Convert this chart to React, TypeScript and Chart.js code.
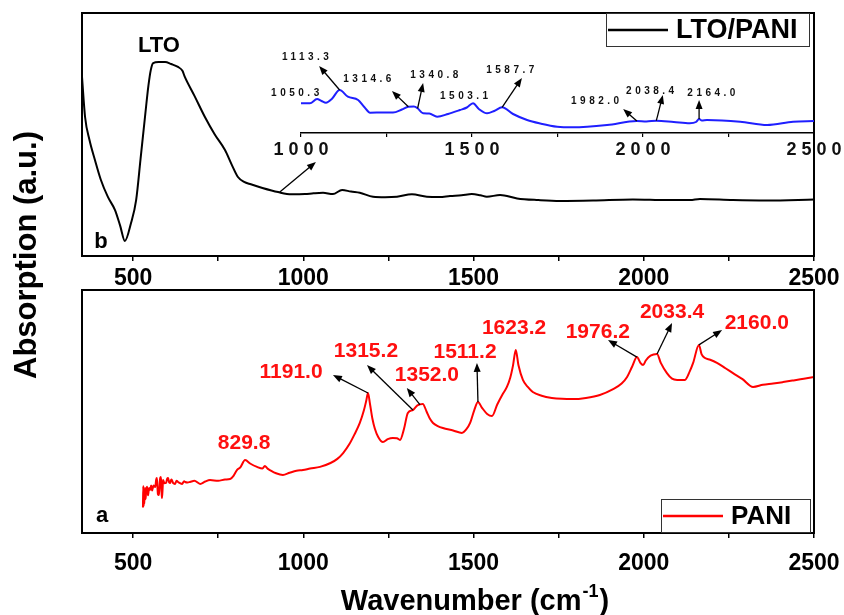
import React, { useEffect, useRef } from 'react';
import { Chart, registerables } from 'chart.js';
Chart.register(...registerables);

const FONT = '"Liberation Sans", Arial, Helvetica, sans-serif';
const W = 844;
const H = 615;

// ---- axes ----
const xMin = 350;
const xMax = 2500;
const xStep = 250;
const xTickLabels = [500, 1000, 1500, 2000, 2500];
const insetMin = 1000;
const insetMax = 2500;
const insetTickLabels = [1000, 1500, 2000, 2500];

// ---- (b) LTO/PANI spectrum ----
const ltoPaniX = [350, 359, 372, 388, 405, 426, 447, 462, 476, 494, 509, 522, 535, 545, 552, 559, 575, 594, 612, 632, 645, 652, 680, 711, 740, 770, 790, 808, 826, 846, 880, 926, 965, 1005, 1030, 1058, 1087, 1114, 1140, 1166, 1205, 1240, 1275, 1319, 1363, 1400, 1431, 1465, 1495, 1520, 1539, 1578, 1628, 1690, 1754, 1851, 1968, 2068, 2136, 2165, 2262, 2362, 2500];
const ltoPaniY = [73.7, 57.2, 47.7, 39.5, 31.5, 24.3, 18.9, 12.5, 6.2, 13.6, 23.0, 40.0, 57.2, 70.0, 76.5, 79.4, 79.8, 79.8, 79.0, 77.8, 76.2, 73.7, 66.0, 57.2, 50.0, 43.6, 37.5, 32.5, 30.5, 29.5, 28.0, 26.3, 25.4, 25.5, 25.8, 26.0, 25.5, 27.2, 26.5, 26.0, 24.4, 24.2, 24.4, 25.4, 24.4, 24.3, 24.7, 25.0, 25.5, 25.0, 24.4, 25.1, 23.7, 23.0, 22.6, 22.8, 23.3, 23.0, 23.0, 23.5, 23.0, 22.8, 23.3];

// ---- inset (enlarged LTO/PANI) ----
const insetX = [1000, 1026, 1047, 1060, 1073, 1090, 1113, 1137, 1167, 1185, 1202, 1240, 1269, 1295, 1314, 1330, 1341, 1357, 1375, 1398, 1430, 1465, 1485, 1503, 1520, 1544, 1565, 1588, 1620, 1661, 1700, 1749, 1795, 1895, 1982, 2010, 2039, 2090, 2137, 2155, 2164, 2172, 2187, 2284, 2363, 2439, 2500];
const insetY = [29.7, 29.7, 34.0, 32.0, 30.3, 34.0, 43.0, 36.3, 33.0, 26.0, 20.3, 20.5, 20.5, 23.5, 26.3, 26.5, 24.7, 19.7, 19.5, 16.3, 19.0, 23.0, 25.5, 29.7, 24.0, 19.7, 22.0, 25.7, 19.0, 13.0, 9.5, 6.3, 5.7, 8.0, 12.0, 11.5, 12.3, 11.0, 9.7, 11.0, 14.0, 12.5, 13.0, 11.3, 8.0, 11.3, 12.0];

// ---- (a) PANI spectrum ----
const paniX = [529, 530, 531, 532, 533, 535, 537, 538, 541, 544, 547, 550, 553, 556, 560, 565, 568, 570, 573, 576, 579, 582, 584, 585, 587, 588, 592, 597, 600, 603, 606, 609, 612, 614, 618, 623, 628, 632, 638, 644, 650, 653, 660, 667, 680, 697, 712, 726, 750, 770, 785, 795, 805, 815, 829, 845, 864, 880, 887, 895, 902, 920, 940, 960, 980, 999, 1020, 1049, 1080, 1100, 1117, 1135, 1150, 1166, 1178, 1185, 1190, 1196, 1203, 1210, 1220, 1234, 1248, 1263, 1275, 1284, 1296, 1307, 1322, 1335, 1351, 1362, 1372, 1381, 1395, 1410, 1440, 1466, 1478, 1490, 1502, 1513, 1525, 1540, 1554, 1570, 1585, 1598, 1608, 1616, 1624, 1632, 1645, 1660, 1674, 1700, 1730, 1760, 1792, 1830, 1871, 1910, 1935, 1951, 1966, 1980, 1990, 1998, 2006, 2020, 2039, 2050, 2068, 2083, 2098, 2121, 2135, 2145, 2162, 2170, 2180, 2195, 2215, 2240, 2262, 2290, 2321, 2350, 2380, 2409, 2440, 2470, 2500];
const paniY = [10.5, 19.3, 11.0, 17.5, 12.0, 18.5, 14.0, 16.9, 19.0, 15.5, 18.5, 17.7, 19.5, 17.5, 19.5, 18.9, 22.0, 22.6, 16.0, 15.6, 22.0, 23.0, 16.0, 14.4, 19.0, 21.8, 20.5, 20.6, 22.3, 22.6, 20.8, 20.6, 22.0, 21.8, 20.5, 20.2, 21.5, 21.0, 20.5, 20.2, 21.3, 21.0, 20.8, 21.0, 21.5, 20.2, 21.2, 21.8, 21.5, 22.0, 22.2, 23.5, 25.9, 27.0, 30.0, 28.5, 27.2, 26.5, 27.6, 26.5, 25.9, 24.6, 23.9, 24.8, 25.6, 25.9, 26.5, 27.2, 28.8, 30.5, 32.9, 36.5, 40.5, 45.3, 50.5, 54.5, 57.6, 53.0, 47.0, 43.0, 39.5, 37.4, 38.6, 39.1, 39.0, 38.3, 43.0, 49.4, 50.6, 52.5, 53.1, 50.0, 47.0, 45.3, 44.0, 43.2, 42.2, 41.2, 42.5, 45.3, 50.5, 53.9, 51.5, 49.0, 48.1, 53.0, 57.0, 60.1, 64.0, 69.0, 75.3, 69.0, 63.0, 60.0, 58.0, 56.5, 55.6, 55.2, 55.1, 55.6, 56.8, 59.2, 61.5, 64.2, 68.5, 72.4, 70.0, 69.1, 71.0, 73.0, 73.7, 70.0, 65.8, 63.5, 63.0, 63.0, 66.5, 70.0, 77.4, 73.5, 72.0, 71.3, 70.0, 67.8, 65.8, 63.3, 60.1, 61.0, 61.5, 62.1, 62.8, 63.5, 64.2];

// ---- annotations: [text, x, y] and arrows [tailX, tailY, headX, headY] in data units ----
const topArrows: number[][] = [[931, 26.3, 1037, 38.7]];
const insetLabels: [string, number, number][] = [
  ['1050.3', 988, 40], ['1113.3', 1018, 76], ['1314.6', 1199, 54], ['1340.8', 1395, 58],
  ['1503.1', 1482, 37], ['1587.7', 1617, 63], ['1982.0', 1865, 32], ['2038.4', 2026, 42], ['2164.0', 2205, 40],
];
const insetArrows: number[][] = [
  [1113, 43, 1053, 67], [1314, 26.3, 1266, 42], [1341, 24.7, 1357, 50], [1588, 25.7, 1646, 55],
  [1982, 12, 1942, 24], [2039, 12.3, 2058, 38], [2164, 14, 2164, 33],
];
const paniLabels: [string, number, number][] = [
  ['829.8', 826, 37.0], ['1191.0', 964, 66.3], ['1315.2', 1184, 74.9], ['1352.0', 1363, 65.0],
  ['1511.2', 1475, 74.5], ['1623.2', 1619, 84.4], ['1976.2', 1865, 82.7], ['2033.4', 2083, 90.9], ['2160.0', 2332, 86.4],
];
const paniArrows: number[][] = [
  [1190, 57.6, 1087, 65.0], [1322, 50.6, 1187, 69.1], [1343, 52.7, 1304, 59.7], [1513, 53.9, 1510, 70.0],
  [1980, 72.4, 1895, 79.4], [2039, 73.7, 2083, 86.4], [2162, 77.4, 2230, 83.5],
];

function drawArrow(ctx: CanvasRenderingContext2D, x1: number, y1: number, x2: number, y2: number, len = 9, half = 3.5) {
  const a = Math.atan2(y2 - y1, x2 - x1);
  const c = Math.cos(a), s = Math.sin(a);
  ctx.beginPath();
  ctx.moveTo(x1, y1);
  ctx.lineTo(x2 - c * len * 0.7, y2 - s * len * 0.7);
  ctx.stroke();
  ctx.beginPath();
  ctx.moveTo(x2, y2);
  ctx.lineTo(x2 - c * len - s * half, y2 - s * len + c * half);
  ctx.lineTo(x2 - c * len + s * half, y2 - s * len - c * half);
  ctx.closePath();
  ctx.fill();
}

function arrowsOf(chart: any, arrows: number[][]) {
  const { ctx, scales } = chart;
  ctx.save();
  ctx.strokeStyle = '#000';
  ctx.fillStyle = '#000';
  ctx.lineWidth = 1.3;
  arrows.forEach(([a, b, c, d]) => {
    drawArrow(ctx, scales.x.getPixelForValue(a), scales.y.getPixelForValue(b), scales.x.getPixelForValue(c), scales.y.getPixelForValue(d));
  });
  ctx.restore();
}

function labelsOf(chart: any, labels: [string, number, number][], font: string, color: string, spacing: string) {
  const { ctx, scales } = chart;
  ctx.save();
  ctx.font = font;
  ctx.fillStyle = color;
  ctx.textAlign = 'center';
  ctx.textBaseline = 'middle';
  (ctx as any).letterSpacing = spacing;
  labels.forEach(([t, x, y]) => ctx.fillText(t, scales.x.getPixelForValue(x), scales.y.getPixelForValue(y)));
  ctx.restore();
}

function boxOf(chart: any) {
  const { ctx, chartArea: a } = chart;
  ctx.save();
  ctx.strokeStyle = '#000';
  ctx.lineWidth = 2;
  ctx.strokeRect(a.left, a.top, a.right - a.left, a.bottom - a.top);
  ctx.restore();
}

function legendBox(ctx: CanvasRenderingContext2D, x: number, y: number, w: number, h: number, color: string, text: string, fontPx: number) {
  ctx.save();
  ctx.fillStyle = '#fff';
  ctx.fillRect(x, y, w, h);
  ctx.strokeStyle = '#333';
  ctx.lineWidth = 1;
  ctx.strokeRect(x + 0.5, y + 0.5, w - 1, h - 1);
  ctx.strokeStyle = color;
  ctx.lineWidth = 2.5;
  ctx.beginPath();
  ctx.moveTo(x + 2, y + h / 2);
  ctx.lineTo(x + 62, y + h / 2);
  ctx.stroke();
  ctx.fillStyle = '#000';
  ctx.font = `bold ${fontPx}px ${FONT}`;
  ctx.textBaseline = 'middle';
  ctx.textAlign = 'left';
  ctx.fillText(text, x + 70, y + h / 2 + 1);
  ctx.restore();
}

function mainX(padding: number, height: number) {
  return {
    type: 'linear',
    min: xMin,
    max: xMax,
    afterFit: (s: any) => {
      s.height = height;
      s.paddingLeft = 0;
      s.paddingRight = 0;
    },
    ticks: {
      stepSize: xStep,
      includeBounds: false,
      autoSkip: false,
      maxRotation: 0,
      color: '#000',
      padding,
      font: { family: FONT, size: 23, weight: 'bold' },
      callback: (v: number) => (xTickLabels.includes(v) ? String(v) : ''),
    },
    grid: { drawOnChartArea: false, drawTicks: true, tickLength: 5, color: '#000', lineWidth: 1.5 },
    border: { display: true, color: '#000', width: 2 },
  };
}

function pts(xs: number[], ys: number[]) {
  return xs.map((x, i) => ({ x, y: ys[i] }));
}

export default function App() {
  const topRef = useRef<HTMLCanvasElement>(null);
  const insetRef = useRef<HTMLCanvasElement>(null);
  const botRef = useRef<HTMLCanvasElement>(null);

  useEffect(() => {
    const base = {
      animation: false as const,
      responsive: false,
      maintainAspectRatio: false,
      devicePixelRatio: 1,
      plugins: { legend: { display: false }, tooltip: { enabled: false } },
      elements: { point: { radius: 0 } },
    };

    const top = new Chart(topRef.current!, {
      type: 'line',
      data: { datasets: [{ data: pts(ltoPaniX, ltoPaniY), borderColor: '#000', borderWidth: 2, cubicInterpolationMode: 'monotone', fill: false }] },
      options: {
        ...base,
        layout: { padding: { left: 82, right: 30, top: 13, bottom: H - 256 - 40 } },
        scales: {
          x: mainX(4, 40) as any,
          y: { display: false, min: 0, max: 100 },
        },
      },
      plugins: [{
        id: 'topDeco',
        afterDraw(chart: any) {
          boxOf(chart);
          arrowsOf(chart, topArrows);
          const { ctx, chartArea: a } = chart;
          ctx.save();
          ctx.fillStyle = '#000';
          ctx.font = `bold 22px ${FONT}`;
          ctx.textAlign = 'center';
          ctx.textBaseline = 'alphabetic';
          ctx.fillText('LTO', 159, 52);
          ctx.fillText('b', a.left + 19, a.bottom - 8);
          ctx.restore();
          legendBox(ctx, a.right - 208, a.top, 204, 34, '#000', 'LTO/PANI', 27);
        },
      }],
    } as any);

    const inset = new Chart(insetRef.current!, {
      type: 'line',
      data: { datasets: [{ data: pts(insetX, insetY), borderColor: '#1f1fff', borderWidth: 2, cubicInterpolationMode: 'monotone', fill: false }] },
      options: {
        ...base,
        layout: { padding: { left: 301, right: 30, top: 83, bottom: H - 133 - 30 } },
        scales: {
          x: {
            type: 'linear',
            min: insetMin,
            max: insetMax,
            afterFit: (s: any) => {
              s.height = 30;
              s.paddingLeft = 0;
              s.paddingRight = 0;
            },
            ticks: {
              stepSize: xStep,
              autoSkip: false,
              maxRotation: 0,
              color: '#111',
              padding: 2,
              font: { family: FONT, size: 18, weight: 'bold' },
              callback: (v: number) => (insetTickLabels.includes(v) ? String(v).split('').join(' ') : ''),
            },
            grid: { drawOnChartArea: false, drawTicks: true, tickLength: 4, color: '#000', lineWidth: 1.2 },
            border: { display: true, color: '#000', width: 1.5 },
          },
          y: { display: false, min: 0, max: 50 },
        },
      },
      plugins: [{
        id: 'insetDeco',
        afterDraw(chart: any) {
          arrowsOf(chart, insetArrows);
          labelsOf(chart, insetLabels, `bold 10px ${FONT}`, '#111', '3.5px');
        },
      }],
    } as any);

    const bot = new Chart(botRef.current!, {
      type: 'line',
      data: { datasets: [{ data: pts(paniX, paniY), borderColor: '#ff0000', borderWidth: 2, cubicInterpolationMode: 'monotone', fill: false }] },
      options: {
        ...base,
        layout: { padding: { left: 82, right: 30, top: 290, bottom: H - 533 - 50 } },
        scales: {
          x: mainX(12, 50) as any,
          y: { display: false, min: 0, max: 100 },
        },
      },
      plugins: [{
        id: 'botDeco',
        afterDraw(chart: any) {
          boxOf(chart);
          arrowsOf(chart, paniArrows);
          labelsOf(chart, paniLabels, `bold 21px ${FONT}`, '#ff1010', '0px');
          const { ctx, chartArea: a } = chart;
          ctx.save();
          ctx.fillStyle = '#000';
          ctx.font = `bold 22px ${FONT}`;
          ctx.textAlign = 'center';
          ctx.textBaseline = 'alphabetic';
          ctx.fillText('a', a.left + 20, a.bottom - 11);
          ctx.restore();
          legendBox(ctx, a.right - 153, a.bottom - 34, 150, 34, '#ff0000', 'PANI', 26);

          // axis titles
          ctx.save();
          ctx.fillStyle = '#000';
          ctx.font = `bold 31px ${FONT}`;
          ctx.textBaseline = 'middle';
          ctx.textAlign = 'center';
          ctx.translate(27, 255);
          ctx.rotate(-Math.PI / 2);
          ctx.fillText('Absorption (a.u.)', 0, 0);
          ctx.restore();

          ctx.save();
          ctx.fillStyle = '#000';
          ctx.textBaseline = 'alphabetic';
          ctx.textAlign = 'left';
          const f1 = `bold 29px ${FONT}`;
          const f2 = `bold 18px ${FONT}`;
          const p1 = 'Wavenumber (cm';
          const p2 = '-1';
          const p3 = ')';
          ctx.font = f1;
          const w1 = ctx.measureText(p1).width;
          const w3 = ctx.measureText(p3).width;
          ctx.font = f2;
          const w2 = ctx.measureText(p2).width;
          const total = w1 + w2 + w3 + 2;
          const cx = 475;
          let x = cx - total / 2;
          const by = 610;
          ctx.font = f1;
          ctx.fillText(p1, x, by);
          x += w1 + 1;
          ctx.font = f2;
          ctx.fillText(p2, x, by - 13);
          x += w2 + 1;
          ctx.font = f1;
          ctx.fillText(p3, x, by);
          ctx.restore();
        },
      }],
    } as any);

    return () => {
      top.destroy();
      inset.destroy();
      bot.destroy();
    };
  }, []);

  const cs: React.CSSProperties = { position: 'absolute', left: 0, top: 0 };
  return (
    <div style={{ position: 'absolute', left: 0, top: 0, width: W, height: H, background: '#fff' }}>
      <canvas ref={topRef} width={W} height={H} style={cs} />
      <canvas ref={insetRef} width={W} height={H} style={cs} />
      <canvas ref={botRef} width={W} height={H} style={cs} />
    </div>
  );
}
